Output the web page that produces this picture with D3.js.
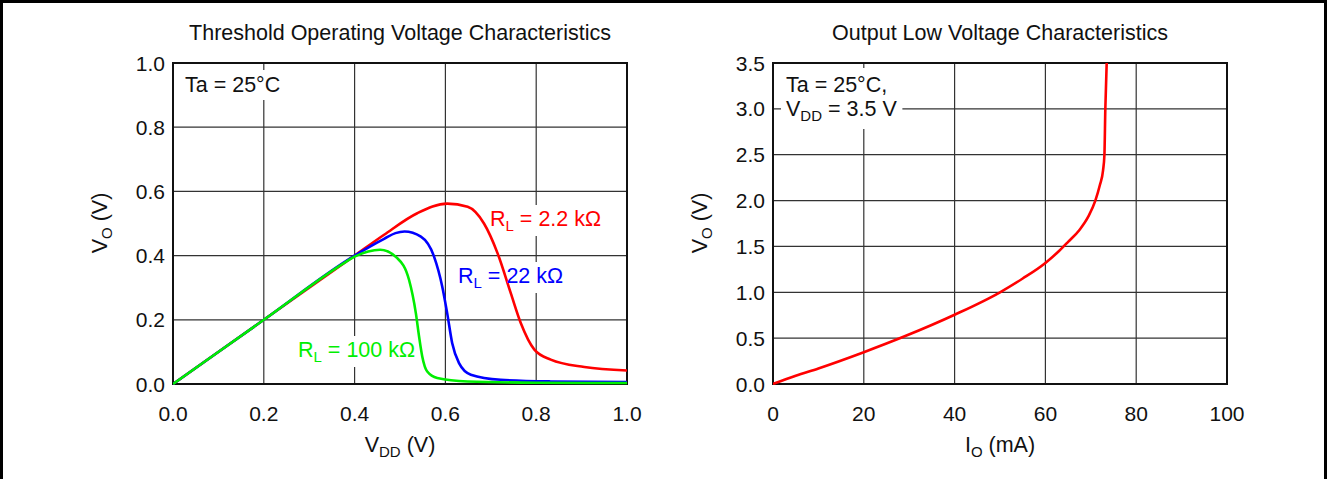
<!DOCTYPE html>
<html>
<head>
<meta charset="utf-8">
<script src="https://cdn.jsdelivr.net/npm/d3@7"></script>
<style>
  body { margin: 0; background: #fff; }
  svg { display: block; font-family: "Liberation Sans", Arial, sans-serif; }
</style>
</head>
<body>
<svg id="chart" width="1327" height="479"></svg>
<script>
// ---- data ----

// left: Threshold Operating Voltage, VO vs VDD for three loads
const vddRed   = [0, 0.2, 0.4, 0.465, 0.538, 0.604, 0.649, 0.685, 0.715, 0.744, 0.766, 0.796, 0.832, 0.906, 1.0];
const voRed    = [0, 0.2, 0.4, 0.465, 0.532, 0.562, 0.552, 0.5, 0.407, 0.283, 0.19, 0.107, 0.076, 0.053, 0.042];

const vddBlue  = [0, 0.2, 0.4, 0.43, 0.465, 0.49, 0.51, 0.546, 0.575, 0.593, 0.604, 0.615, 0.63, 0.656, 0.722, 0.832, 1.0];
const voBlue   = [0, 0.2, 0.4, 0.425, 0.452, 0.47, 0.475, 0.459, 0.397, 0.304, 0.22, 0.127, 0.065, 0.029, 0.013, 0.008, 0.006];

const vddGreen = [0, 0.2, 0.38, 0.4, 0.43, 0.456, 0.494, 0.52, 0.535, 0.542, 0.549, 0.56, 0.582, 0.649, 0.8, 1.0];
const voGreen  = [0, 0.2, 0.38, 0.397, 0.413, 0.418, 0.392, 0.324, 0.22, 0.148, 0.086, 0.039, 0.019, 0.008, 0.004, 0.003];

const loadLabels = ["2.2 kΩ", "22 kΩ", "100 kΩ"];
const vddTicks = [0, 0.2, 0.4, 0.6, 0.8, 1.0];
const voTicksLeft = [0, 0.2, 0.4, 0.6, 0.8, 1.0];

// right: Output Low Voltage, VO vs IO
const ioValues = [0, 5, 10, 20, 29, 40, 50, 55, 60, 63, 65, 67.5, 69.5, 71, 72, 72.7, 73.0, 73.2, 73.5];
const voValues = [0, 0.09, 0.17, 0.347, 0.52, 0.755, 1.0, 1.15, 1.32, 1.45, 1.55, 1.68, 1.83, 2.0, 2.17, 2.33, 2.5, 3.0, 3.5];

const ioTicks = [0, 20, 40, 60, 80, 100];
const voTicksRight = [0, 0.5, 1.0, 1.5, 2.0, 2.5, 3.0, 3.5];

// ---- layout ----
const FONT = 21.5;
const TICK_FONT = 21;
const SUB_FONT = 15;
const PLOT_TOP = 63;
const PLOT_BOTTOM = 384;
const LEFT_PANEL = { x0: 173, x1: 627 };
const RIGHT_PANEL = { x0: 773, x1: 1227 };

const svg = d3.select("#chart");

// outer frame
svg.append("rect")
  .attr("x", 1.5).attr("y", 1.5)
  .attr("width", 1324).attr("height", 520)
  .attr("fill", "none")
  .attr("stroke", "#000")
  .attr("stroke-width", 3);

// text with subscripts; parts = [[text, isSub], ...]
function subText(g, x, y, parts, color) {
  const t = g.append("text")
    .attr("x", x).attr("y", y)
    .attr("font-size", FONT)
    .attr("fill", color || "#111");
  let down = false;
  parts.forEach(p => {
    const span = t.append("tspan").text(p[0]);
    if (p[1] && !down) { span.attr("dy", 5).attr("font-size", SUB_FONT); down = true; }
    else if (p[1]) { span.attr("font-size", SUB_FONT); }
    else if (down) { span.attr("dy", -5); down = false; }
  });
  return t;
}

function makePanel(box, xDomain, yDomain, xTicks, yTicks, xFmt, yFmt, title) {
  const x = d3.scaleLinear().domain(xDomain).range([box.x0, box.x1]);
  const y = d3.scaleLinear().domain(yDomain).range([PLOT_BOTTOM, PLOT_TOP]);
  const g = svg.append("g");

  const grid = g.append("g");
  const boxes = g.append("g");
  const frame = g.append("g");
  const curves = g.append("g");
  const labels = g.append("g");

  grid.selectAll(".vgrid")
    .data(xTicks.slice(1, -1))
    .enter().append("line")
    .attr("x1", d => x(d)).attr("x2", d => x(d))
    .attr("y1", PLOT_TOP).attr("y2", PLOT_BOTTOM)
    .attr("stroke", "#333").attr("stroke-width", 1.2);

  grid.selectAll(".hgrid")
    .data(yTicks.slice(1, -1))
    .enter().append("line")
    .attr("x1", box.x0).attr("x2", box.x1)
    .attr("y1", d => y(d)).attr("y2", d => y(d))
    .attr("stroke", "#333").attr("stroke-width", 1.2);

  frame.append("rect")
    .attr("x", box.x0).attr("y", PLOT_TOP)
    .attr("width", box.x1 - box.x0).attr("height", PLOT_BOTTOM - PLOT_TOP)
    .attr("fill", "none").attr("stroke", "#111").attr("stroke-width", 2);

  // tick labels
  g.selectAll(".xt")
    .data(xTicks)
    .enter().append("text")
    .attr("x", d => x(d)).attr("y", PLOT_BOTTOM + 37)
    .attr("text-anchor", "middle")
    .attr("font-size", TICK_FONT).attr("fill", "#111")
    .text(xFmt);

  g.selectAll(".yt")
    .data(yTicks)
    .enter().append("text")
    .attr("x", box.x0 - 8).attr("y", d => y(d) + 7.5)
    .attr("text-anchor", "end")
    .attr("font-size", TICK_FONT).attr("fill", "#111")
    .text(yFmt);

  g.append("text")
    .attr("x", (box.x0 + box.x1) / 2).attr("y", 40)
    .attr("text-anchor", "middle")
    .attr("font-size", FONT).attr("fill", "#111")
    .text(title);

  const clipId = "clip" + box.x0;
  svg.append("clipPath").attr("id", clipId)
    .append("rect")
    .attr("x", box.x0).attr("y", PLOT_TOP - 1)
    .attr("width", box.x1 - box.x0).attr("height", PLOT_BOTTOM - PLOT_TOP + 2);
  curves.attr("clip-path", `url(#${clipId})`);

  return { x, y, g, boxes, curves, labels };
}

function addCurve(panel, xs, ys, color) {
  const line = d3.line()
    .x(i => panel.x(xs[i]))
    .y(i => panel.y(ys[i]))
    .curve(d3.curveMonotoneX);
  panel.curves.append("path")
    .attr("d", line(d3.range(xs.length)))
    .attr("fill", "none")
    .attr("stroke", color)
    .attr("stroke-width", 2.6);
}

// white patch behind a label so grid lines break around it
function clearBehind(panel, nodes, pad) {
  const bb = nodes.map(n => n.node().getBBox());
  const x0 = d3.min(bb, b => b.x) - pad, x1 = d3.max(bb, b => b.x + b.width) + pad;
  const y0 = d3.min(bb, b => b.y) - pad, y1 = d3.max(bb, b => b.y + b.height) + pad;
  panel.boxes.append("rect")
    .attr("x", x0).attr("y", y0)
    .attr("width", x1 - x0).attr("height", y1 - y0)
    .attr("fill", "#fff");
}

function yTitle(panel, cx) {
  panel.g.append("text")
    .attr("transform", `translate(${cx},223) rotate(-90)`)
    .attr("text-anchor", "middle")
    .attr("font-size", FONT).attr("fill", "#111")
    .call(t => {
      t.append("tspan").text("V");
      t.append("tspan").attr("dy", 5).attr("font-size", SUB_FONT).text("O");
      t.append("tspan").attr("dy", -5).text(" (V)");
    });
}

// ---- left panel ----
const left = makePanel(LEFT_PANEL, [0, 1], [0, 1], vddTicks, voTicksLeft,
  d3.format(".1f"), d3.format(".1f"), "Threshold Operating Voltage Characteristics");

addCurve(left, vddRed, voRed, "#ff0000");
addCurve(left, vddBlue, voBlue, "#0000ff");
addCurve(left, vddGreen, voGreen, "#00ee00");

const ta1 = subText(left.labels, 185, 92, [["Ta = 25°C", false]]);
clearBehind(left, [ta1], 3);

const lRed = subText(left.labels, 490, 226, [["R", false], ["L", true], [" = " + loadLabels[0], false]], "#ff0000");
const lBlue = subText(left.labels, 458, 283, [["R", false], ["L", true], [" = " + loadLabels[1], false]], "#0000ff");
const lGreen = subText(left.labels, 298, 357, [["R", false], ["L", true], [" = " + loadLabels[2], false]], "#00ee00");
clearBehind(left, [lRed], 2);
clearBehind(left, [lBlue], 2);
clearBehind(left, [lGreen], 2);

yTitle(left, 107);
subText(left.g, 0, 452, [["V", false], ["DD", true], [" (V)", false]])
  .attr("x", 400).attr("text-anchor", "middle");

// ---- right panel ----
const right = makePanel(RIGHT_PANEL, [0, 100], [0, 3.5], ioTicks, voTicksRight,
  d3.format("d"), d3.format(".1f"), "Output Low Voltage Characteristics");

addCurve(right, ioValues, voValues, "#ff0000");

const ta2 = subText(right.labels, 786, 92, [["Ta = 25°C,", false]]);
const vdd2 = subText(right.labels, 786, 116, [["V", false], ["DD", true], [" = 3.5 V", false]]);
clearBehind(right, [ta2, vdd2], 5);

yTitle(right, 707);
subText(right.g, 0, 452, [["I", false], ["O", true], [" (mA)", false]])
  .attr("x", 1000).attr("text-anchor", "middle");
</script>
</body>
</html>
